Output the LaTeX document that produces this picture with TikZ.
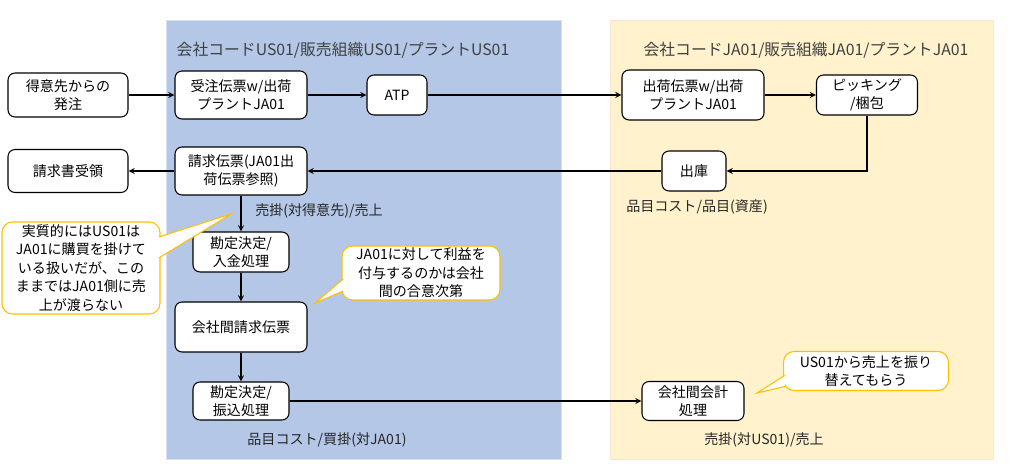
\documentclass[tikz,border=0pt]{standalone}
\usepackage{fontspec}
\setmainfont{Noto Sans CJK JP}
\definecolor{usblue}{HTML}{B4C7E7}
\definecolor{usedge}{HTML}{D6E0F2}
\definecolor{jayellow}{HTML}{FFF2CC}
\definecolor{jaedge}{HTML}{FBE5D6}
\definecolor{notegold}{HTML}{FFC000}
\tikzset{
	stepbox/.style={draw, line width=0.6pt, rounded corners=4pt, fill=white, align=center, inner sep=1pt, font=\fontsize{8}{10.5}\selectfont},
	notebox/.style={draw=notegold, line width=0.6pt, rounded corners=6pt, fill=white, align=center, inner sep=1pt, font=\fontsize{8}{10.5}\selectfont},
	noteptr/.style={draw=notegold, line width=0.6pt, fill=white},
	acct/.style={font=\fontsize{8}{10.5}\selectfont, text=black!85},
	orgtitle/.style={font=\fontsize{9}{11}\selectfont, text=black!75},
	flow/.style={-stealth, line width=0.6pt},
}

\begin{document}
\begin{tikzpicture}[x=0.02cm, y=-0.02cm]
		\useasboundingbox (0,0) rectangle (1017,476);

		% company areas
		\draw[usedge, fill=usblue] (166,20) rectangle (561,459);
		\draw[jaedge, fill=jayellow] (610,20) rectangle (993,459);
		\node[orgtitle] (ustitle) at (343,50) {会社コードUS01/販売組織US01/プラントUS01};
		\node[orgtitle] (jatitle) at (806,50) {会社コードJA01/販売組織JA01/プラントJA01};

		\node[stepbox, minimum width=2.4cm, minimum height=0.88cm] (order) at (68,95) {得意先からの\\発注};
		\node[stepbox, minimum width=2.64cm, minimum height=0.96cm] (juchu) at (241,95) {受注伝票w/出荷\\プラントJA01};
		\node[stepbox, minimum width=1.2cm, minimum height=0.8cm] (atp) at (397,95) {ATP};
		\node[stepbox, minimum width=2.84cm, minimum height=1cm] (shukka) at (693,95) {出荷伝票w/出荷\\プラントJA01};
		\node[stepbox, minimum width=2.02cm, minimum height=0.8cm] (picking) at (867,95) {ピッキング\\/梱包};

		\node[stepbox, minimum width=2.4cm, minimum height=0.86cm] (juryo) at (68,171) {請求書受領};
		\node[stepbox, minimum width=2.64cm, minimum height=0.96cm] (seikyu) at (241,171) {請求伝票(JA01出\\荷伝票参照)};
		\node[stepbox, minimum width=1.28cm, minimum height=0.8cm] (shukko) at (694,171) {出庫};

		\node[stepbox, minimum width=1.92cm, minimum height=0.8cm] (nyukin) at (241,252) {勘定決定/\\入金処理};
		\node[stepbox, minimum width=2.64cm, minimum height=1cm] (icinvoice) at (241,327) {会社間請求伝票};
		\node[stepbox, minimum width=1.92cm, minimum height=0.76cm] (furikomi) at (241,401) {勘定決定/\\振込処理};
		\node[stepbox, minimum width=2.04cm, minimum height=0.78cm] (icacct) at (693,401) {会社間会計\\処理};

		\node[acct] (arsales) at (319,211) {売掛(対得意先)/売上};
		\node[acct] (stockcost) at (697,207) {品目コスト/品目(資産)};
		\node[acct] (apcost) at (327,440) {品目コスト/買掛(対JA01)};
		\node[acct] (arus) at (764,440) {売掛(対US01)/売上};

		\draw[flow] (order) -- (juchu);
		\draw[flow] (juchu) -- (atp);
		\draw[flow] (atp) -- (shukka);
		\draw[flow] (shukka) -- (picking);
		\draw[flow] (picking.south) |- (shukko.east);
		\draw[flow] (shukko) -- (seikyu);
		\draw[flow] (seikyu) -- (juryo);
		\draw[flow] (seikyu) -- (nyukin);
		\draw[flow] (nyukin) -- (icinvoice);
		\draw[flow] (icinvoice) -- (furikomi);
		\draw[flow] (furikomi) -- (icacct);

		% notes
		\node[notebox, minimum width=3.16cm, minimum height=1.84cm] (noteus) at (81,268) {実質的にはUS01は\\JA01に購買を掛けて\\いる扱いだが、この\\ままではJA01側に売\\上が渡らない};
		\coordinate (noteustip) at (231,214);
		\path[noteptr] ([xshift=-1pt, yshift=0.62cm]noteus.east) -- (noteustip) -- ([xshift=-1pt, yshift=0.2cm]noteus.east);

		\node[notebox, minimum width=3.16cm, minimum height=1.08cm] (notemargin) at (421,273) {JA01に対して利益を\\付与するのかは会社\\間の合意次第};
		\coordinate (notemargintip) at (315,303);
		\path[noteptr] ([xshift=1pt, yshift=-0.12cm]notemargin.west) -- (notemargintip) -- ([xshift=1pt, yshift=-0.36cm]notemargin.west);

		\node[notebox, minimum width=3.3cm, minimum height=0.78cm] (notesales) at (866,371) {US01から売上を振り\\替えてもらう};
		\coordinate (notesalestip) at (757,393);
		\path[noteptr] ([xshift=1pt, yshift=-0.09cm]notesales.west) -- (notesalestip) -- ([xshift=1pt, yshift=-0.31cm]notesales.west);

	\end{tikzpicture}
\end{document}
